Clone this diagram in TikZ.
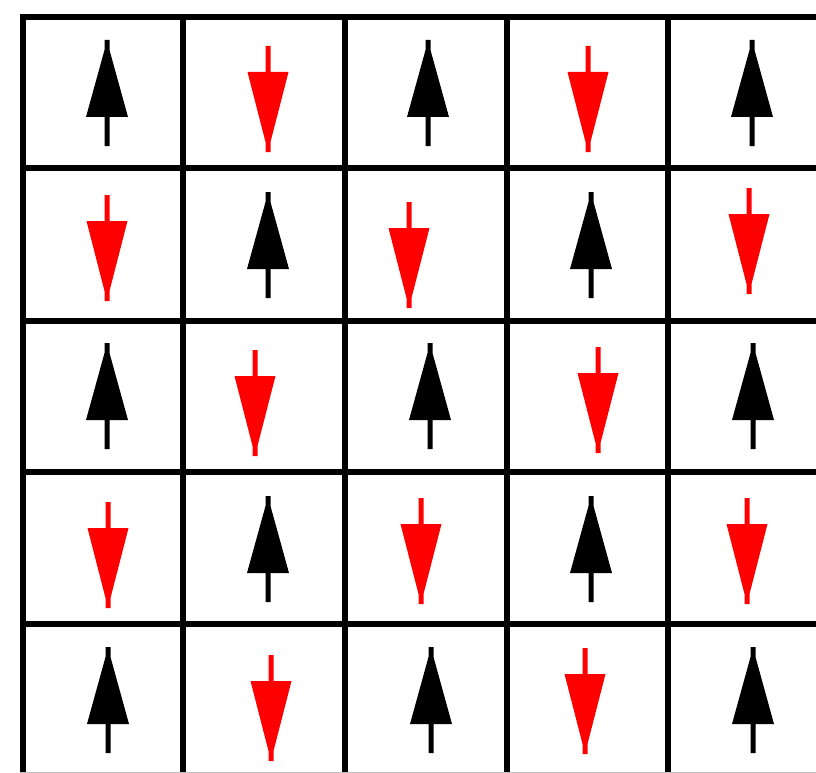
\documentclass[tikz,border=0pt]{standalone}
\begin{document}
\begin{tikzpicture}[x=1pt,y=-1pt,
  gridline/.style={line width=6pt,black},
  uparr/.pic={
    \fill[black] (0,0) -- (2.5,0) -- (2.5,10) -- (21,77) -- (2.5,77) -- (2.5,106) -- (-2.5,106) -- (-2.5,77) -- (-21,77) -- (-2.5,10) -- (-2.5,0) -- cycle;
  },
  downarr/.pic={
    \fill[red] (-2.5,0) -- (2.5,0) -- (2.5,26) -- (20.5,26) -- (2.5,96) -- (2.5,106) -- (-2.5,106) -- (-2.5,96) -- (-20.5,26) -- (-2.5,26) -- cycle;
  }]
\useasboundingbox (0,0) rectangle (816,773);
\fill[white] (0,0) rectangle (816,773);
% grid
\foreach \x in {23,183,345,507,668} \draw[gridline] (\x,14) -- (\x,773);
\foreach \y in {17,168,321,472,624} \draw[gridline] (20,\y) -- (816,\y);
\draw[gray!50,line width=1pt] (20,772) -- (816,772);
% row 1
\pic at (107,40) {uparr};
\pic at (268,46) {downarr};
\pic at (428,40) {uparr};
\pic at (588,46) {downarr};
\pic at (752,40) {uparr};
% row 2
\pic at (107,195) {downarr};
\pic at (268,192) {uparr};
\pic at (409,202) {downarr};
\pic at (591,192) {uparr};
\pic at (749,188) {downarr};
% row 3
\pic at (107,343) {uparr};
\pic at (255,350) {downarr};
\pic at (430,343) {uparr};
\pic at (598,347) {downarr};
\pic at (753,343) {uparr};
% row 4
\pic at (108,502) {downarr};
\pic at (268,496) {uparr};
\pic at (421,498) {downarr};
\pic at (591,496) {uparr};
\pic at (747,498) {downarr};
% row 5
\pic at (108,647) {uparr};
\pic at (271,655) {downarr};
\pic at (431,647) {uparr};
\pic at (585,648) {downarr};
\pic at (753,647) {uparr};
\end{tikzpicture}
\end{document}
